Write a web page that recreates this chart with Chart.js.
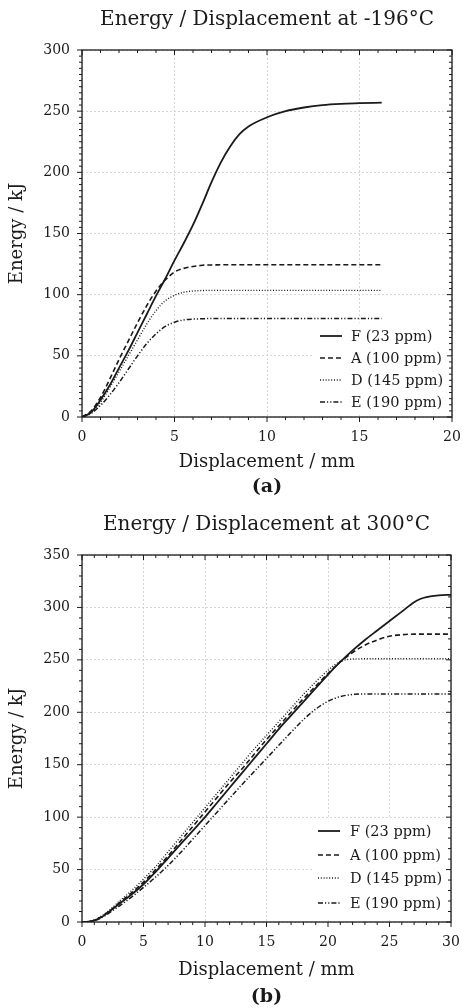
<!DOCTYPE html>
<html>
<head>
<meta charset="utf-8">
<script src="https://cdn.jsdelivr.net/npm/chart.js@4"></script>
<style>
  html, body { margin: 0; padding: 0; background: #fff; }
  #page { position: relative; width: 462px; height: 1008px; overflow: hidden; }
  .panel { position: absolute; left: 0; width: 462px; }
  #panelCold { top: 0; }
  #panelHot { top: 500px; }
</style>
</head>
<body>
<div id="page">
  <div class="panel" id="panelCold"><canvas id="chartCold" width="462" height="500"></canvas></div>
  <div class="panel" id="panelHot"><canvas id="chartHot" width="462" height="508"></canvas></div>
</div>
<script>
// ---- data ----------------------------------------------------------
const seriesLabels = ['F (23 ppm)', 'A (100 ppm)', 'D (145 ppm)', 'E (190 ppm)'];

// -196 °C test
const coldDisp = [0, 0.5, 1, 1.5, 2, 2.5, 3, 3.5, 4, 4.5, 5, 5.5, 6, 6.5, 7, 7.5, 8, 8.5, 9, 10, 11, 12, 13, 14, 15, 16.2];
const coldF = [0, 4, 14, 26, 40, 54, 69, 84, 99, 113, 128, 142, 157, 174, 192, 208, 221, 231, 237.5, 245, 250, 253, 255, 256, 256.5, 257];
const coldA = [0, 5, 16, 31, 47, 62, 77, 91, 103, 112, 118.5, 121.5, 123, 124, 124.3, 124.4, 124.5, 124.5, 124.5, 124.5, 124.5, 124.5, 124.5, 124.5, 124.5, 124.5];
const coldD = [0, 3.5, 12, 24, 37, 50, 63, 76, 87, 95, 99.5, 102, 103, 103.4, 103.5, 103.5, 103.5, 103.5, 103.5, 103.5, 103.5, 103.5, 103.5, 103.5, 103.5, 103.5];
const coldE = [0, 3, 9.5, 18, 28, 39, 50, 60, 68, 74, 77.5, 79.3, 80, 80.3, 80.5, 80.5, 80.5, 80.5, 80.5, 80.5, 80.5, 80.5, 80.5, 80.5, 80.5, 80.5];

// 300 °C test
const hotDisp = [0, 0.5, 1, 1.5, 2, 2.5, 3, 4, 5, 6, 7, 8, 9, 10, 11, 12, 13, 14, 15, 16, 17, 18, 19, 20, 21, 22, 23, 24, 25, 26, 27, 27.5, 28, 29, 30];
const hotF = [0, 0.3, 1.5, 4, 8, 12.5, 17, 26, 36, 48, 61, 74, 87, 100, 114, 128, 142, 156, 170, 184, 197, 210, 223, 236, 248, 259, 269, 278, 287, 296, 305, 308, 309.8, 311.5, 312];
const hotA = [0, 0.3, 1.7, 4.5, 8.5, 13, 18, 27.5, 38, 50, 63, 77, 91, 105, 119, 133, 146, 160, 174, 187, 200, 213, 225, 237, 248, 257, 264, 269, 272.5, 274, 274.5, 274.5, 274.5, 274.5, 274.5];
const hotD = [0, 0.3, 1.8, 5, 9, 14, 19.5, 29.5, 41, 53, 67, 81, 95, 109, 123, 137, 151, 165, 178, 191, 204, 217, 229, 240, 248.5, 250.8, 251, 251, 251, 251, 251, 251, 251, 251, 251];
const hotE = [0, 0.2, 1.3, 3.5, 7, 11, 15, 23.5, 33, 43, 54, 66, 79, 92, 105, 118, 131, 143.5, 156, 168.5, 181, 193, 203, 210.5, 215, 217, 217.5, 217.5, 217.5, 217.5, 217.5, 217.5, 217.5, 217.5, 217.5];

// ---- look ----------------------------------------------------------
const FONT = "'DejaVu Serif', serif";
const INK = '#1a1a1a';

const lineStyles = [
  { width: 1.8, dash: [] },
  { width: 1.6, dash: [5, 3] },
  { width: 1.4, dash: [1, 1.8] },
  { width: 1.5, dash: [5, 2, 1.2, 2, 1.2, 2] },
];

function pairs(xs, ys) { return xs.map((x, i) => ({ x, y: ys[i] })); }

// closed box round the plot; ticks point out on left/bottom, in on top/right
const frameTicks = {
  id: 'frameTicks',
  afterDraw(chart, args, opts) {
    const { ctx, chartArea: a, scales: { x, y } } = chart;
    const isMajor = (v, step) => Math.abs(v / step - Math.round(v / step)) < 1e-6;
    const seg = (x1, y1, x2, y2) => { ctx.beginPath(); ctx.moveTo(x1, y1); ctx.lineTo(x2, y2); ctx.stroke(); };
    ctx.save();
    ctx.strokeStyle = INK;
    ctx.lineWidth = 1.3;
    ctx.strokeRect(a.left, a.top, a.right - a.left, a.bottom - a.top);
    ctx.lineWidth = 1;
    for (let v = x.min; v <= x.max + 1e-9; v += opts.xMinor) {
      const px = x.getPixelForValue(v);
      const len = isMajor(v, opts.xMajor) ? 5 : 3;
      seg(px, a.bottom, px, a.bottom + len);
      seg(px, a.top, px, a.top + len);
    }
    for (let v = y.min; v <= y.max + 1e-9; v += opts.yMinor) {
      const py = y.getPixelForValue(v);
      const len = isMajor(v, opts.yMajor) ? 5 : 3;
      seg(a.left, py, a.left - len, py);
      seg(a.right, py, a.right - len, py);
    }
    ctx.restore();
  }
};

// legend sitting inside the plot, bottom right, on a white patch
const inlineLegend = {
  id: 'inlineLegend',
  afterDatasetsDraw(chart, args, opts) {
    const { ctx, chartArea: a } = chart;
    ctx.save();
    ctx.fillStyle = '#fff';
    ctx.fillRect(a.right - opts.boxW, a.bottom - opts.boxH, opts.boxW - 2, opts.boxH - 2);
    ctx.font = opts.fontSize + 'px ' + FONT;
    ctx.textBaseline = 'middle';
    ctx.fillStyle = INK;
    chart.data.datasets.forEach((ds, i) => {
      const cy = a.bottom - opts.rows[i];
      ctx.strokeStyle = INK;
      ctx.lineWidth = ds.borderWidth;
      ctx.setLineDash(ds.borderDash || []);
      ctx.beginPath();
      ctx.moveTo(a.right - opts.sampleFrom, cy);
      ctx.lineTo(a.right - opts.sampleTo, cy);
      ctx.stroke();
      ctx.setLineDash([]);
      ctx.fillText(ds.label, a.right - opts.textFrom, cy + 1);
    });
    ctx.restore();
  }
};

function makeChart(canvasId, g) {
  const titleLH = 20 * 1.2, capLH = 19 * 1.2, axisLH = 18 * 1.2;
  const titleTop = g.titleMid - titleLH / 2;
  const titleBottom = g.plotTop - titleTop - titleLH;
  const capBottom = Math.max(0, g.height - g.captionMid - capLH / 2);
  const xHeight = g.height - (capLH + capBottom) - g.plotBottom;
  const xTitleBottom = g.plotBottom + xHeight - g.xTitleMid - axisLH / 2;

  const datasets = g.series.map((ys, i) => ({
    label: seriesLabels[i],
    data: pairs(g.disp, ys),
    borderColor: INK,
    borderWidth: lineStyles[i].width,
    borderDash: lineStyles[i].dash,
    pointRadius: 0,
    fill: false,
    cubicInterpolationMode: 'monotone',
  }));

  const tickFont = { family: FONT, size: 14 };
  const axisFont = { family: FONT, size: 18, lineHeight: 1.2 };

  return new Chart(document.getElementById(canvasId), {
    type: 'line',
    data: { datasets },
    plugins: [frameTicks, inlineLegend],
    options: {
      responsive: false,
      animation: false,
      layout: { padding: { left: 0, right: g.padRight, top: 0, bottom: 0 } },
      scales: {
        x: {
          type: 'linear', min: 0, max: g.xMax,
          ticks: { stepSize: g.xStep, padding: 12, color: INK, font: tickFont, maxRotation: 0 },
          grid: { color: '#cdcdcd', lineWidth: 0.8, drawTicks: false },
          border: { display: false, dash: [2, 2] },
          title: { display: true, text: 'Displacement / mm', color: INK, font: axisFont, padding: { top: 0, bottom: xTitleBottom } },
          afterFit: s => { s.height = xHeight; s.paddingLeft = 0; s.paddingRight = 0; },
        },
        y: {
          type: 'linear', min: 0, max: g.yMax,
          ticks: { stepSize: 50, padding: 12, color: INK, font: tickFont },
          grid: { color: '#cdcdcd', lineWidth: 0.8, drawTicks: false },
          border: { display: false, dash: [2, 2] },
          title: { display: true, text: 'Energy / kJ', color: INK, font: axisFont, padding: { top: 7, bottom: 0 } },
          afterFit: s => { s.width = g.plotLeft; s.paddingTop = 0; s.paddingBottom = 0; },
        },
      },
      plugins: {
        legend: { display: false },
        tooltip: { enabled: false },
        title: {
          display: true, fullSize: false, text: g.title, color: INK,
          font: { family: FONT, size: 20, weight: 'normal', lineHeight: 1.2 },
          padding: { top: titleTop, bottom: titleBottom },
        },
        subtitle: {
          display: true, fullSize: false, position: 'bottom', text: g.caption, color: INK,
          font: { family: FONT, size: 19, weight: 'bold', lineHeight: 1.2 },
          padding: { top: 0, bottom: capBottom },
        },
        frameTicks: { xMajor: g.xStep, xMinor: 1, yMajor: 50, yMinor: g.yMinor },
        inlineLegend: g.legend,
      },
    },
  });
}

makeChart('chartCold', {
  title: 'Energy / Displacement at -196°C', caption: '(a)',
  disp: coldDisp, series: [coldF, coldA, coldD, coldE],
  xMax: 20, xStep: 5, yMax: 300, yMinor: 5,
  height: 500, titleMid: 20, plotTop: 50, plotBottom: 417, plotLeft: 82,
  xTitleMid: 462, captionMid: 487, padRight: 10,
  legend: { rows: [81, 59, 37, 15], sampleFrom: 132, sampleTo: 110, textFrom: 101, boxW: 138, boxH: 94, fontSize: 14.5 },
});

makeChart('chartHot', {
  title: 'Energy / Displacement at 300°C', caption: '(b)',
  disp: hotDisp, series: [hotF, hotA, hotD, hotE],
  xMax: 30, xStep: 5, yMax: 350, yMinor: 10,
  height: 508, titleMid: 25, plotTop: 55, plotBottom: 422, plotLeft: 82,
  xTitleMid: 470, captionMid: 497, padRight: 11,
  legend: { rows: [91, 67, 44, 19], sampleFrom: 133, sampleTo: 111, textFrom: 101, boxW: 138, boxH: 104, fontSize: 14.5 },
});
</script>
</body>
</html>
